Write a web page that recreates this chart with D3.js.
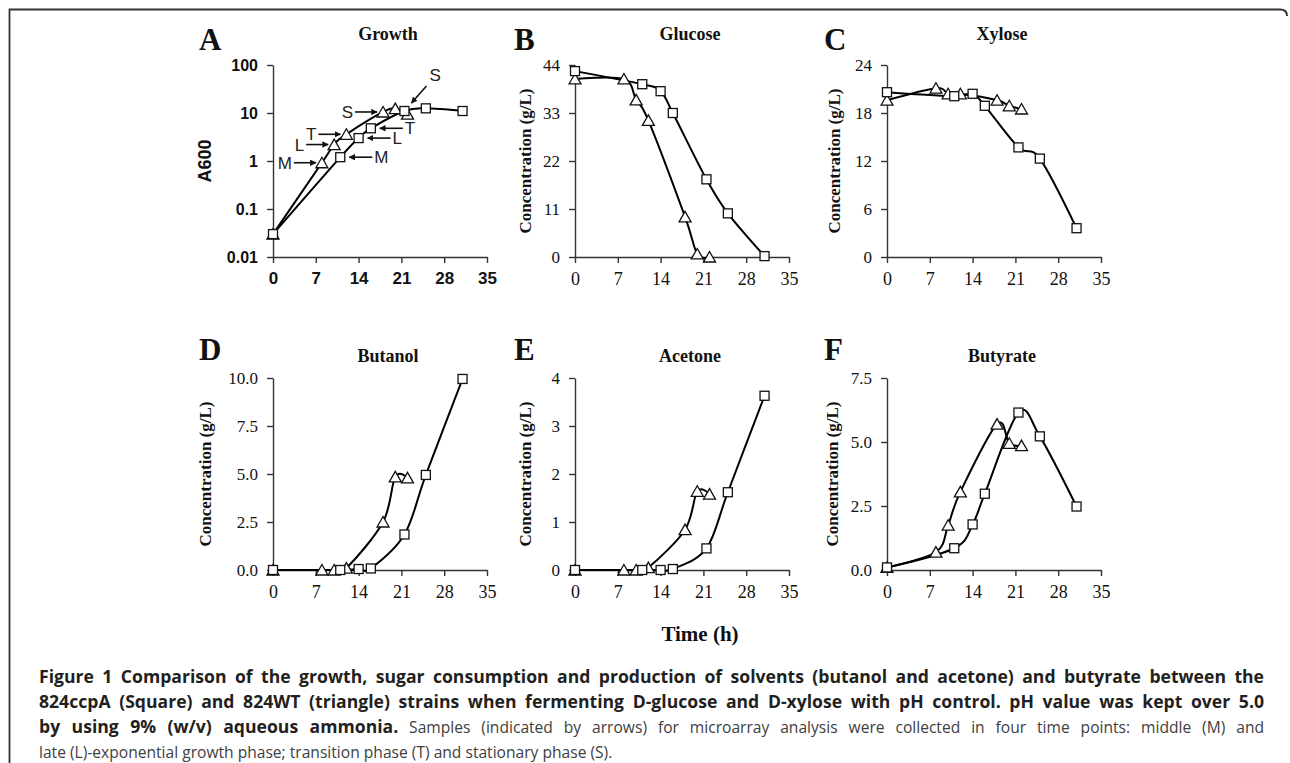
<!DOCTYPE html>
<html>
<head>
<meta charset="utf-8">
<script src="https://cdn.jsdelivr.net/npm/d3@7"></script>
<style>
body { margin: 0; background: #fff; }
</style>
</head>
<body>
<script>
// sampling times (h)
var hoursSquare = [0, 11, 14, 16, 21.5, 25, 31];
var hoursTriangle = [0, 8, 10, 12, 18, 20, 22];
var hourTicks = [0, 7, 14, 21, 28, 35];

// 824ccpA (square) and 824WT (triangle)
var growthSquare = [0.03, 1.2, 3.0, 4.8, 11, 12.5, 11];
var growthTriangle = [0.03, 0.92, 2.2, 3.6, 10.5, 12.3, 9.5];
var glucoseSquare = [42.6, 39.6, 38, 33, 17.8, 10, 0.2];
var glucoseTriangle = [40.8, 40.8, 36, 31.3, 9.2, 0.7, 0];
var xyloseSquare = [20.6, 20.1, 20.4, 18.9, 13.7, 12.3, 3.6];
var xyloseTriangle = [19.6, 21.1, 20.4, 20.4, 19.6, 18.9, 18.5];
var butanolSquare = [0, 0, 0.05, 0.08, 1.85, 4.95, 9.95];
var butanolTriangle = [0, 0, 0, 0.1, 2.5, 4.85, 4.8];
var acetoneSquare = [0, 0, 0, 0.02, 0.45, 1.62, 3.63];
var acetoneTriangle = [0, 0, 0, 0.05, 0.84, 1.64, 1.58];
var butyrateSquare = [0.1, 0.85, 1.78, 2.98, 6.15, 5.22, 2.48];
var butyrateTriangle = [0.1, 0.7, 1.75, 3.05, 5.7, 4.95, 4.86];

var growthTicks = [0.01, 0.1, 1, 10, 100];
var glucoseTicks = [0, 11, 22, 33, 44];
var xyloseTicks = [0, 6, 12, 18, 24];
var butanolTicks = [0, 2.5, 5, 7.5, 10];
var acetoneTicks = [0, 1, 2, 3, 4];
var butyrateTicks = [0, 2.5, 5, 7.5];

// sample arrows in panel A
var sampleNotes = [
	{label: "M", series: "tri", i: 1, side: "left"},
	{label: "L", series: "tri", i: 2, side: "left"},
	{label: "T", series: "tri", i: 3, side: "left"},
	{label: "S", series: "tri", i: 4, side: "left"},
	{label: "M", series: "sq", i: 1, side: "right"},
	{label: "L", series: "sq", i: 2, side: "right"},
	{label: "T", series: "sq", i: 3, side: "right"},
	{label: "S", series: "sq", i: 4, side: "diag"}
];

var captionLines = [
	[{t: "Figure 1 Comparison of the growth, sugar consumption and production of solvents (butanol and acetone) and butyrate between the", b: true}],
	[{t: "824ccpA (Square) and 824WT (triangle) strains when fermenting D-glucose and D-xylose with pH control. pH value was kept over 5.0", b: true}],
	[{t: "by using 9% (w/v) aqueous ammonia.", b: true}, {t: " Samples (indicated by arrows) for microarray analysis were collected in four time points: middle (M) and", b: false}],
	[{t: "late (L)-exponential growth phase; transition phase (T) and stationary phase (S).", b: false}]
];

var serif = "'Liberation Serif', 'Times New Roman', serif";
var sans = "'Liberation Sans', Arial, sans-serif";
var captionFont = "'Open Sans', 'Noto Sans', sans-serif";

var panels = [
	{letter: "A", title: "Growth", sq: growthSquare, tri: growthTriangle, ticks: growthTicks, domain: [0.01, 100], log: true, fmt: function (d) { return String(d); }, col: 0, row: 0, ylabel: "A600", ylabelDx: -68},
	{letter: "B", title: "Glucose", sq: glucoseSquare, tri: glucoseTriangle, ticks: glucoseTicks, domain: [0, 44], fmt: d3.format("d"), col: 1, row: 0, ylabel: "Concentration (g/L)", ylabelDx: -50},
	{letter: "C", title: "Xylose", sq: xyloseSquare, tri: xyloseTriangle, ticks: xyloseTicks, domain: [0, 24], fmt: d3.format("d"), col: 2, row: 0, ylabel: "Concentration (g/L)", ylabelDx: -53},
	{letter: "D", title: "Butanol", sq: butanolSquare, tri: butanolTriangle, ticks: butanolTicks, domain: [0, 10], fmt: d3.format(".1f"), col: 0, row: 1, ylabel: "Concentration (g/L)", ylabelDx: -68},
	{letter: "E", title: "Acetone", sq: acetoneSquare, tri: acetoneTriangle, ticks: acetoneTicks, domain: [0, 4], fmt: d3.format("d"), col: 1, row: 1, ylabel: "Concentration (g/L)", ylabelDx: -50},
	{letter: "F", title: "Butyrate", sq: butyrateSquare, tri: butyrateTriangle, ticks: butyrateTicks, domain: [0, 7.5], fmt: d3.format(".1f"), col: 2, row: 1, ylabel: "Concentration (g/L)", ylabelDx: -55}
];

var plotLeft = [273, 575, 887];
var plotTop = [65, 378];
var plotWidth = 214;
var plotHeight = 192;
var letterDx = [-74, -61, -63];
var titleY = [40, 362];
var letterY = [50, 360];

var svg = d3.select("body")
	.append("svg")
	.attr("width", 1290)
	.attr("height", 763)
	.style("display", "block");

svg.append("rect")
	.attr("width", 1290)
	.attr("height", 763)
	.attr("fill", "#fff");

// frame of the figure box
svg.append("path")
	.attr("d", "M 9.5 763 L 9.5 9.5 L 1280 9.5 Q 1287 9.5 1287 16")
	.attr("fill", "none")
	.attr("stroke", "#333")
	.attr("stroke-width", 1.8);

var defs = svg.append("defs");
defs.append("marker")
	.attr("id", "head")
	.attr("viewBox", "0 0 10 10")
	.attr("refX", 9)
	.attr("refY", 5)
	.attr("markerWidth", 4)
	.attr("markerHeight", 4)
	.attr("orient", "auto")
	.append("path")
	.attr("d", "M 0 0 L 10 5 L 0 10 Z")
	.attr("fill", "#111");

var x = d3.scaleLinear().domain([0, 35]).range([0, plotWidth]);

panels.forEach(function (p) {
	var g = svg.append("g")
		.attr("transform", "translate(" + plotLeft[p.col] + "," + plotTop[p.row] + ")");
	var y = (p.log ? d3.scaleLog() : d3.scaleLinear()).domain(p.domain).range([plotHeight, 0]);
	var tickFont = p.log ? sans : serif;

	svg.append("text")
		.attr("x", plotLeft[p.col] + letterDx[p.col])
		.attr("y", letterY[p.row])
		.style("font-family", serif)
		.style("font-weight", "bold")
		.style("font-size", "31px")
		.attr("fill", "#111")
		.text(p.letter);

	svg.append("text")
		.attr("x", plotLeft[p.col] + plotWidth / 2 + 8)
		.attr("y", titleY[p.row])
		.attr("text-anchor", "middle")
		.style("font-family", serif)
		.style("font-weight", "bold")
		.style("font-size", "18px")
		.attr("fill", "#111")
		.text(p.title);

	var yAxis = g.append("g")
		.call(d3.axisLeft(y).tickValues(p.ticks).tickFormat(p.fmt).tickSize(6).tickSizeOuter(0).tickPadding(9));
	var xAxis = g.append("g")
		.attr("transform", "translate(0," + plotHeight + ")")
		.call(d3.axisBottom(x).tickValues(hourTicks).tickFormat(d3.format("d")).tickSize(6).tickSizeOuter(0).tickPadding(9));

	g.selectAll(".domain, .tick line")
		.attr("stroke", "#333")
		.attr("stroke-width", 1.4);
	yAxis.selectAll("text")
		.style("font-family", tickFont)
		.style("font-weight", p.log ? "bold" : "normal")
		.style("font-size", p.log ? "16px" : "17px")
		.attr("fill", "#111");
	xAxis.selectAll("text")
		.style("font-family", tickFont)
		.style("font-weight", p.log ? "bold" : "normal")
		.style("font-size", p.log ? "17px" : "18px")
		.attr("fill", "#111");

	g.append("text")
		.attr("transform", "translate(" + p.ylabelDx + "," + (plotHeight / 2) + ") rotate(-90)")
		.attr("text-anchor", "middle")
		.attr("dy", "0.35em")
		.style("font-family", p.log ? sans : serif)
		.style("font-weight", "bold")
		.style("font-size", p.log ? "18px" : "17px")
		.attr("fill", "#111")
		.text(p.ylabel);

	var sqData = hoursSquare.map(function (h, i) { return [h, p.sq[i]]; });
	var triData = hoursTriangle.map(function (h, i) { return [h, p.tri[i]]; });

	var line = d3.line()
		.x(function (d) { return x(d[0]); })
		.y(function (d) { return y(d[1]); })
		.curve(d3.curveCatmullRom.alpha(0));

	[sqData, triData].forEach(function (data) {
		g.append("path")
			.attr("d", line(data))
			.attr("fill", "none")
			.attr("stroke", "#000")
			.attr("stroke-width", 2);
	});

	g.selectAll(".tri")
		.data(triData)
		.enter()
		.append("path")
		.attr("class", "tri")
		.attr("d", "M -6 5 L 0 -5.5 L 6 5 Z")
		.attr("transform", function (d) { return "translate(" + x(d[0]) + "," + y(d[1]) + ")"; })
		.attr("fill", "#fff")
		.attr("stroke", "#111")
		.attr("stroke-width", 1.3);

	g.selectAll(".sq")
		.data(sqData)
		.enter()
		.append("rect")
		.attr("class", "sq")
		.attr("x", function (d) { return x(d[0]) - 4.5; })
		.attr("y", function (d) { return y(d[1]) - 4.5; })
		.attr("width", 9)
		.attr("height", 9)
		.attr("fill", "#fff")
		.attr("stroke", "#111")
		.attr("stroke-width", 1.3);

	if (p.log) {
		sampleNotes.forEach(function (n) {
			var d = n.series === "sq" ? sqData[n.i] : triData[n.i];
			var px = x(d[0]), py = y(d[1]);
			var a, lx, ly, anchor;
			if (n.side === "left") {
				a = [px - 28, py, px - 6, py];
				lx = px - 30; ly = py; anchor = "end";
			} else if (n.side === "right") {
				a = [px + 32, py, px + 9, py];
				lx = px + 34; ly = py; anchor = "start";
			} else {
				a = [px + 22, py - 25, px + 7, py - 8];
				lx = px + 25; ly = py - 36; anchor = "start";
			}
			g.append("line")
				.attr("x1", a[0]).attr("y1", a[1])
				.attr("x2", a[2]).attr("y2", a[3])
				.attr("stroke", "#111")
				.attr("stroke-width", 1.6)
				.attr("marker-end", "url(#head)");
			g.append("text")
				.attr("x", lx)
				.attr("y", ly)
				.attr("dy", "0.36em")
				.attr("text-anchor", anchor)
				.style("font-family", sans)
				.style("font-size", "17px")
				.attr("fill", "#222")
				.text(n.label);
		});
	}
});

svg.append("text")
	.attr("x", 700)
	.attr("y", 641)
	.attr("text-anchor", "middle")
	.style("font-family", serif)
	.style("font-weight", "bold")
	.style("font-size", "21px")
	.attr("fill", "#111")
	.text("Time (h)");

// caption, first three lines justified to the right margin
var captionRight = 1264;
captionLines.forEach(function (parts, k) {
	var t = svg.append("text")
		.attr("x", 39)
		.attr("y", 683 + k * 25)
		.style("font-family", captionFont);
	parts.forEach(function (s) {
		t.append("tspan")
			.style("font-weight", s.b ? "bold" : "normal")
			.style("font-size", s.b ? "17.6px" : "15.6px")
			.attr("fill", s.b ? "#231f20" : "#404040")
			.text(s.t);
	});
	if (k < 3) {
		var w = t.node().getComputedTextLength();
		var spaces = parts.map(function (s) { return s.t; }).join("").split(" ").length - 1;
		t.style("word-spacing", Math.max(0, (captionRight - 39 - w) / spaces) + "px");
	}
});
</script>
</body>
</html>
